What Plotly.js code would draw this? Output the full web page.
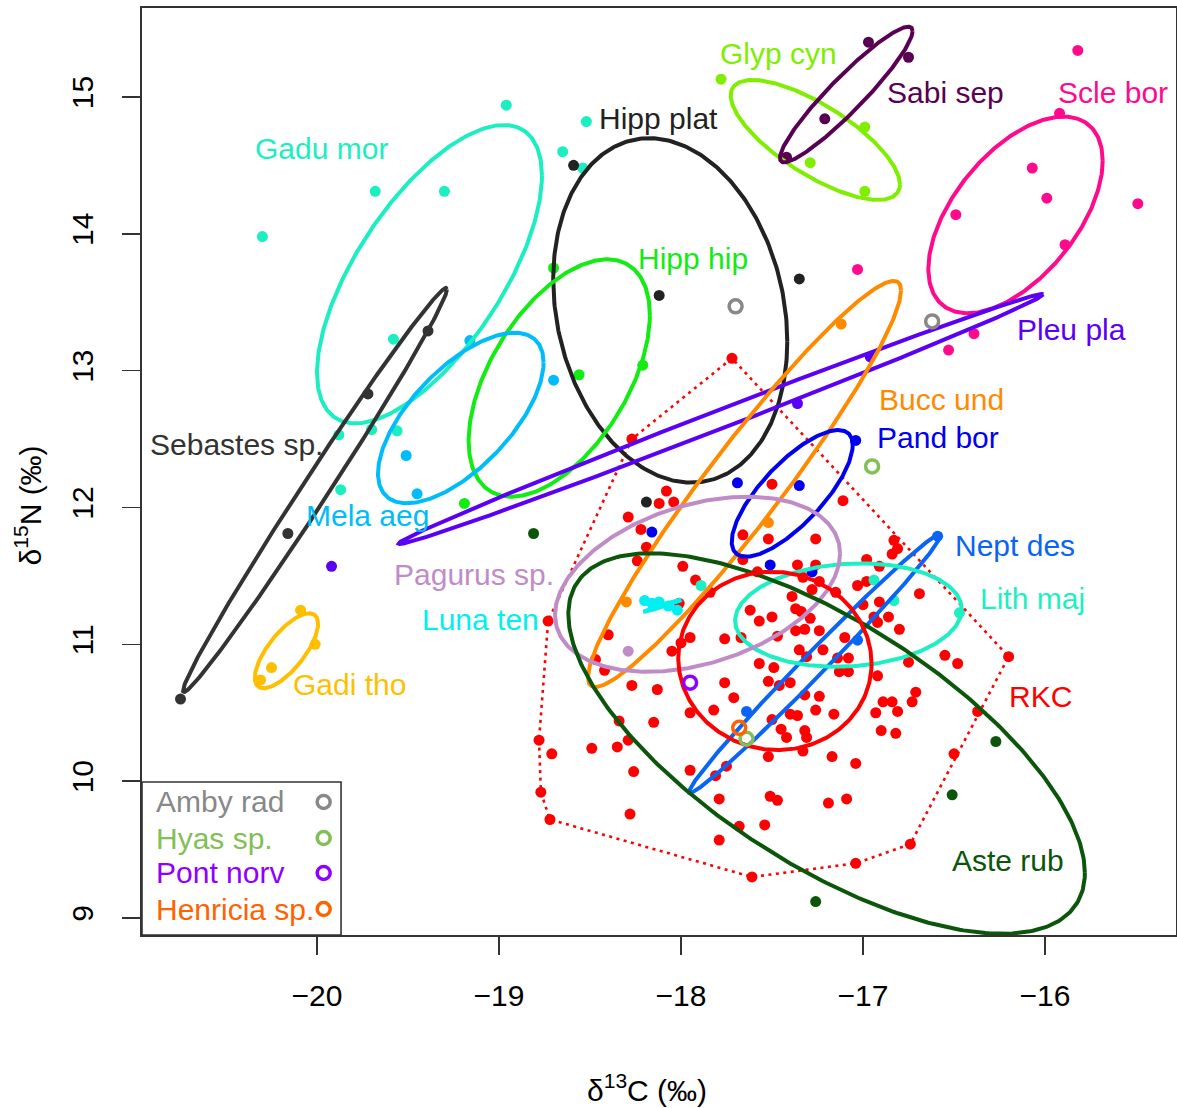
<!DOCTYPE html>
<html><head><meta charset="utf-8">
<script src="https://cdn.plot.ly/plotly-3.0.1.min.js"></script>
<style>html,body{margin:0;padding:0;background:#fff}#chart{width:1177px;height:1108px}</style>
</head><body><div id="chart"></div>
<script>
// ---------------- DATA (δ13C, δ15N in ‰) ----------------
const gaduMorC = [-18.96,-18.52,-18.65,-18.54,-20.30,-19.68,-19.30,-19.58,-19.88,-19.70,-19.56,-19.87];
const gaduMorN = [14.94,14.82,14.60,14.48,13.98,14.31,14.31,13.23,12.53,12.57,12.56,12.13];
const sebastesC = [-20.75,-20.16,-19.72,-19.39];
const sebastesN = [10.60,11.81,12.83,13.29];
const hippPlatC = [-18.59,-18.12,-17.35,-18.19];
const hippPlatN = [14.50,13.55,13.67,12.04];
const hippHipC = [-19.19,-18.70,-18.21,-18.56];
const hippHipN = [12.03,13.75,13.04,12.97];
const melaAegC = [-19.16,-18.70,-19.51,-19.45];
const melaAegN = [13.22,12.93,12.38,12.10];
const glypCynC = [-17.78,-16.99,-17.29,-16.99];
const glypCynN = [15.13,14.78,14.52,14.31];
const sabiSepC = [-16.97,-16.75,-17.21,-17.42];
const sabiSepN = [15.40,15.29,14.84,14.56];
const scleBorC = [-15.82,-15.92,-16.07,-15.99,-16.49,-15.49,-15.89,-16.39,-16.53,-17.03];
const scleBorN = [15.34,14.88,14.48,14.26,14.14,14.22,13.92,13.27,13.15,13.74];
const pleuPlaC = [-16.96,-17.36,-19.92];
const pleuPlaN = [13.10,12.76,11.57];
const buccUndC = [-17.12,-17.52,-18.30];
const buccUndN = [13.34,11.89,11.31];
const pandBorC = [-17.04,-17.69,-17.35,-17.51,-18.16,-17.28];
const pandBorN = [12.49,12.18,12.16,11.58,11.82,11.53];
const neptDesC = [-16.59,-17.64,-17.03];
const neptDesN = [11.79,10.51,11.03];
const lithMajC = [-16.47,-16.83,-17.89,-16.94];
const lithMajN = [11.23,11.32,11.43,11.47];
const pagurusC = [-18.29];
const pagurusN = [10.95];
const lunaTenC = [-18.20,-18.16,-18.12,-18.07,-18.02];
const lunaTenN = [11.32,11.30,11.31,11.28,11.25];
const asteRubC = [-18.81,-16.27,-16.51,-17.26];
const asteRubN = [11.81,10.29,9.90,9.12];
const gadiThoC = [-20.09,-20.01,-20.25,-20.31];
const gadiThoN = [11.25,11.00,10.83,10.74];
const rkcC = [-18.27,-18.08,-18.04,-18.12,-18.29,-18.22,-18.19,-18.24,-17.99,-17.92,-17.84,-18.01,-17.66,-17.66,-18.73,-18.40,-17.95,-17.76,-17.67,-17.62,
  -17.50,-17.11,-17.52,-17.26,-16.83,-16.81,-16.84,-17.36,-17.26,-16.98,-16.91,-17.58,-17.33,-17.24,-17.03,-16.98,-16.69,-17.28,-17.15,-17.39,
  -17.00,-16.91,-17.57,-17.50,-17.37,-17.34,-17.29,-16.94,-16.86,-16.80,-17.32,-17.24,-17.10,-16.92,-17.37,-17.47,-17.57,-17.49,-17.52,-17.46,
  -17.40,-17.35,-17.31,-17.22,-17.14,-17.08,-17.13,-17.08,-16.92,-17.76,-17.71,-17.82,-17.95,-17.32,-17.24,-17.26,-17.16,-16.89,-16.84,-16.81,
  -16.93,-17.36,-17.40,-17.50,-17.45,-17.42,-17.32,-17.31,-17.33,-17.52,-17.17,-17.04,-16.75,-16.55,-16.48,-16.71,-16.73,-16.90,-16.82,-16.37,
  -16.50,-17.51,-17.47,-17.19,-17.09,-17.68,-17.54,-16.74,-17.04,-17.61,-16.20,-18.47,-18.42,-18.27,-18.13,-18.05,-18.00,-18.34,-18.15,-18.78,
  -18.71,-18.49,-18.35,-18.29,-18.26,-17.95,-17.81,-17.75,-18.77,-17.79,-18.28,-18.72,-17.79,-17.72];
const rkcN = [12.50,12.12,12.04,12.03,11.93,11.84,11.71,11.61,11.57,11.47,11.38,11.30,11.80,11.62,11.17,11.07,11.05,11.04,11.05,11.25,
  12.17,12.05,11.77,11.77,11.76,11.70,11.66,11.58,11.58,11.62,11.57,11.53,11.49,11.46,11.43,11.46,11.37,11.40,11.38,11.35,
  11.29,11.31,11.17,11.20,11.26,11.24,11.19,11.20,11.20,11.11,11.11,11.10,11.05,11.16,11.10,11.06,10.86,10.83,10.73,10.70,
  10.72,10.96,10.91,10.96,10.90,10.90,10.80,10.80,10.77,10.72,10.61,10.52,10.50,10.63,10.62,10.52,10.49,10.58,10.58,10.51,
  10.50,10.48,10.49,10.45,10.38,10.32,10.37,10.32,10.22,10.18,10.18,10.13,10.87,10.92,10.86,10.65,10.58,10.37,10.35,10.51,
  10.20,9.89,9.86,9.84,9.87,9.67,9.68,9.54,9.40,9.30,10.91,10.89,10.81,10.70,10.67,10.95,11.01,10.44,10.43,10.30,
  10.20,10.24,10.25,10.30,10.07,10.08,10.04,10.11,9.92,9.87,9.76,9.72,9.57,13.09];
const ambyRadC = [-17.70,-16.62];
const ambyRadN = [13.47,13.36];
const hyasC = [-16.95,-17.64];
const hyasN = [12.30,10.31];
const pontNorvC = [-17.95];
const pontNorvN = [10.72];
const henriciaC = [-17.68];
const henriciaN = [10.39];

// standard ellipse parameters per species: centre, x/y half-extent, correlation
const ellSpecies = ["Gadu mor","Sebastes sp.","Hipp plat","Hipp hip","Mela aeg","Glyp cyn","Sabi sep","Scle bor","Pleu pla","Bucc und","Pand bor","Nept des","Lith maj","Pagurus sp.","Luna ten","Aste rub","Gadi tho","RKC"];
const ellCx = [-19.382,-20.011,-18.059,-18.669,-19.210,-17.262,-17.092,-16.162,-17.780,-17.651,-17.389,-17.264,-17.080,-17.909,-18.102,-17.200,-20.168,-17.484];
const ellCy = [13.705,12.128,13.440,12.946,12.654,14.686,15.018,14.138,12.647,12.172,12.103,10.860,11.214,11.439,11.282,10.275,10.953,10.879];
const ellSx = [0.618,0.725,0.643,0.498,0.455,0.465,0.3646,0.479,1.771,0.860,0.3324,0.6923,0.6228,0.783,0.104,1.419,0.174,0.531];
const ellSy = [1.090,1.476,1.2585,0.8675,0.6234,0.4385,0.4955,0.7184,0.9135,1.4836,0.463,0.9464,0.378,0.6395,0.044,1.390,0.274,0.6515];
const ellR  = [0.66,0.993,-0.18,0.53,0.65,-0.74,0.935,0.55,0.9968,0.953,0.76,0.992,0.11,0.35,0.985,-0.68,0.72,-0.03];

const xTicks = [-20,-19,-18,-17,-16];
const yTicks = [9,10,11,12,13,14,15];
const legendNames = ["Amby rad","Hyas sp.","Pont norv","Henricia sp."];

// ---------------- STYLE ----------------
const col = {
  "Gadu mor":"#1BEEC0","Sebastes sp.":"#333333","Hipp plat":"#222222","Hipp hip":"#12EC12","Mela aeg":"#00BCFA",
  "Glyp cyn":"#7FEE00","Sabi sep":"#590052","Scle bor":"#FF0A8C","Pleu pla":"#5A00F5","Bucc und":"#FF8A00",
  "Pand bor":"#0000EE","Nept des":"#0A64F5","Lith maj":"#1EEFC2","Pagurus sp.":"#C08CC8","Luna ten":"#00F0F0",
  "Aste rub":"#0B560B","Gadi tho":"#FFBF00","RKC":"#FF0000",
  "Amby rad":"#888888","Hyas sp.":"#82C055","Pont norv":"#9000FF","Henricia sp.":"#FF6200"
};
const FONT = "Liberation Sans, Arial, Helvetica, sans-serif";
const FS = 30;

// label placement (data coordinates)
const labels = [
  ["Glyp cyn",-17.467,15.314],["Sabi sep",-16.549,15.029],["Scle bor",-15.626,15.029],["Hipp plat",-18.121,14.839],
  ["Gadu mor",-19.973,14.620],["Hipp hip",-17.934,13.816],["Pleu pla",-15.857,13.304],["Bucc und",-16.571,12.786],
  ["Pand bor",-16.588,12.515],["Sebastes sp.",-20.440,12.457],["Mela aeg",-19.720,11.945],["Nept des",-16.165,11.719],
  ["Pagurus sp.",-19.137,11.507],["Lith maj",-16.066,11.338],["Luna ten",-19.104,11.178],["Gadi tho",-19.819,10.710],
  ["RKC",-16.027,10.622],["Aste rub",-16.203,9.424]
];

// ---------------- BUILD ----------------
const traces = [];
function pts(name, xs, ys){
  traces.push({type:'scatter',mode:'markers',x:xs,y:ys,name:name,hoverinfo:'skip',
    marker:{size:11,color:col[name],line:{width:0}}});
}
pts("RKC", rkcC, rkcN);
pts("Gadu mor", gaduMorC, gaduMorN);
pts("Sebastes sp.", sebastesC, sebastesN);
pts("Hipp plat", hippPlatC, hippPlatN);
pts("Hipp hip", hippHipC, hippHipN);
pts("Mela aeg", melaAegC, melaAegN);
pts("Glyp cyn", glypCynC, glypCynN);
pts("Sabi sep", sabiSepC, sabiSepN);
pts("Scle bor", scleBorC, scleBorN);
pts("Pleu pla", pleuPlaC, pleuPlaN);
pts("Bucc und", buccUndC, buccUndN);
pts("Pand bor", pandBorC, pandBorN);
pts("Nept des", neptDesC, neptDesN);
pts("Lith maj", lithMajC, lithMajN);
pts("Pagurus sp.", pagurusC, pagurusN);
pts("Luna ten", lunaTenC, lunaTenN);
pts("Aste rub", asteRubC, asteRubN);
pts("Gadi tho", gadiThoC, gadiThoN);

// convex hull of RKC
function hull(xs, ys){
  const p = xs.map((x,i)=>[x,ys[i]]).sort((a,b)=>a[0]-b[0]||a[1]-b[1]);
  const cr=(o,a,b)=>(a[0]-o[0])*(b[1]-o[1])-(a[1]-o[1])*(b[0]-o[0]);
  const lo=[],up=[];
  for(const q of p){while(lo.length>=2&&cr(lo[lo.length-2],lo[lo.length-1],q)<=0)lo.pop();lo.push(q);}
  for(let i=p.length-1;i>=0;i--){const q=p[i];while(up.length>=2&&cr(up[up.length-2],up[up.length-1],q)<=0)up.pop();up.push(q);}
  const h=lo.slice(0,-1).concat(up.slice(0,-1)); h.push(h[0]); return h;
}
const hh = hull(rkcC, rkcN);
traces.push({type:'scatter',mode:'lines',x:hh.map(p=>p[0]),y:hh.map(p=>p[1]),hoverinfo:'skip',
  line:{color:col["RKC"],width:2.6,dash:'3px,4.5px'}});

// ellipses
ellSpecies.forEach((sp,i)=>{
  const s=Math.sqrt(1-ellR[i]*ellR[i]); const xs=[],ys=[];
  for(let k=0;k<=360;k++){const t=2*Math.PI*k/360;
    xs.push(ellCx[i]+ellSx[i]*Math.cos(t));
    ys.push(ellCy[i]+ellSy[i]*(ellR[i]*Math.cos(t)+s*Math.sin(t)));}
  traces.push({type:'scatter',mode:'lines',x:xs,y:ys,hoverinfo:'skip',line:{color:col[sp],width:4}});
});

// open-circle species
function opn(name, xs, ys){
  traces.push({type:'scatter',mode:'markers',x:xs,y:ys,hoverinfo:'skip',
    marker:{symbol:'circle-open',size:13,color:col[name],line:{width:3.5,color:col[name]}}});
}
opn("Amby rad", ambyRadC, ambyRadN);
opn("Hyas sp.", hyasC, hyasN);
opn("Pont norv", pontNorvC, pontNorvN);
opn("Henricia sp.", henriciaC, henriciaN);

// legend (drawn on a hidden 0-1 overlay axis)
const legY = [0.1435,0.1046,0.0669,0.028];
traces.push({type:'scatter',mode:'markers',xaxis:'x2',yaxis:'y2',hoverinfo:'skip',
  x:legendNames.map(()=>0.1757), y:legY,
  marker:{symbol:'circle-open',size:13,color:legendNames.map(n=>col[n]),line:{width:3.5,color:legendNames.map(n=>col[n])}}});

const annotations = labels.map(l=>({x:l[1],y:l[2],xref:'x',yref:'y',text:l[0],showarrow:false,
  xanchor:'center',yanchor:'middle',font:{family:FONT,size:FS,color:col[l[0]]}}));
legendNames.forEach((n,i)=>annotations.push({x:0.0115,y:legY[i],xref:'paper',yref:'paper',text:n,showarrow:false,
  xanchor:'left',yanchor:'middle',font:{family:FONT,size:FS,color:col[n]}}));
annotations.push({x:0.4884,y:-0.165,xref:'paper',yref:'paper',text:'δ<sup>13</sup>C (‰)',showarrow:false,
  xanchor:'center',yanchor:'middle',font:{family:FONT,size:FS,color:'#000'}});
annotations.push({x:-0.1098,y:0.4639,xref:'paper',yref:'paper',text:'δ<sup>15</sup>N (‰)',showarrow:false,textangle:-90,
  xanchor:'center',yanchor:'middle',font:{family:FONT,size:FS,color:'#000'}});

const axCommon = {showgrid:false,zeroline:false,showline:true,mirror:true,linecolor:'#333',linewidth:2,
  ticks:'outside',ticklen:18,tickwidth:1.6,tickcolor:'#333',tickfont:{family:FONT,size:FS,color:'#000'}};
const layout = {
  width:1177,height:1108,margin:{l:142,r:1,t:8,b:173,pad:0},
  paper_bgcolor:'#fff',plot_bgcolor:'#fff',showlegend:false,
  font:{family:FONT,size:FS,color:'#000'},
  xaxis:Object.assign({},axCommon,{range:[-20.9615,-15.2802],tickmode:'array',tickvals:xTicks,ticklabelstandoff:15}),
  yaxis:Object.assign({},axCommon,{range:[8.876,15.650],tickmode:'array',tickvals:yTicks,tickangle:-90,ticklabelstandoff:17}),
  xaxis2:{overlaying:'x',range:[0,1],visible:false,fixedrange:true},
  yaxis2:{overlaying:'y',range:[0,1],visible:false,fixedrange:true},
  shapes:[{type:'rect',xref:'paper',yref:'paper',x0:0,x1:0.1925,y0:0,y1:0.165,line:{color:'#333',width:1.6},fillcolor:'rgba(0,0,0,0)'}],
  annotations:annotations
};
Plotly.newPlot('chart',traces,layout,{displayModeBar:false,staticPlot:true});
</script></body></html>
